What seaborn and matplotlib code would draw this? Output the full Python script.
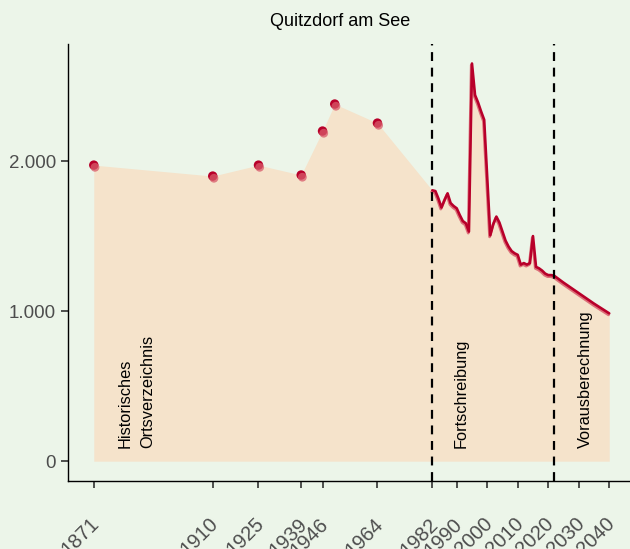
import matplotlib
matplotlib.use("Agg")
import matplotlib.pyplot as plt
import matplotlib.transforms as mtransforms
from matplotlib.ticker import FuncFormatter
import seaborn as sns
import pandas as pd

# Historical census points (Historisches Ortsverzeichnis)
hist_years = [1871, 1910, 1925, 1939, 1946, 1950, 1964]
hist_pop = [1973, 1900, 1973, 1907, 2200, 2380, 2253]

# Annual update (Fortschreibung)
upd_years = list(range(1982, 2022))
upd_pop = [1805, 1800, 1750, 1690, 1740, 1785, 1720, 1700, 1685, 1640,
           1600, 1585, 1530, 2650, 2440, 2390, 2330, 2275, 1890, 1505,
           1580, 1630, 1590, 1530, 1470, 1430, 1400, 1385, 1375, 1310,
           1320, 1310, 1320, 1500, 1295, 1285, 1270, 1250, 1240, 1240]

# Projection (Vorausberechnung)
proj_years = [2022, 2025, 2030, 2035, 2040]
proj_pop = [1235, 1190, 1120, 1050, 985]

tick_years = [1871, 1910, 1925, 1939, 1946, 1964, 1982, 1990, 2000, 2010,
              2020, 2030, 2040]
y_ticks = [0, 1000, 2000]
breaks = [1982, 2022]
labels = ["Historisches\nOrtsverzeichnis", "Fortschreibung", "Vorausberechnung"]
label_x = [1885, 1991.4, 2032.2]

bg = "#ecf5e9"
fill_col = "#f5e3cb"
red = "#b8002a"
light_red = "#d85a6a"

sns.set_theme(style="ticks")
plt.rcParams["font.family"] = ["Liberation Sans", "DejaVu Sans"]

hist = pd.DataFrame({"year": hist_years, "pop": hist_pop})
line = pd.DataFrame({"year": upd_years + proj_years, "pop": upd_pop + proj_pop})
allpts = pd.concat([hist, line], ignore_index=True)

fig = plt.figure(figsize=(6.3, 5.49), dpi=100, facecolor=bg)
ax = fig.add_axes([68 / 630, 68 / 549, 567 / 630, 437 / 549])
ax.set_facecolor(bg)

ax.fill_between(allpts["year"], 0, allpts["pop"], color=fill_col, lw=0, zorder=1)

shift = mtransforms.offset_copy(ax.transData, fig=fig, x=-0.7, y=-1.5, units="dots")
shift_pt = mtransforms.offset_copy(ax.transData, fig=fig, x=1.2, y=-2.2, units="dots")

ax.plot(line["year"], line["pop"], color=light_red, lw=2.0, alpha=0.85,
        transform=shift, zorder=3, solid_joinstyle="round")
sns.lineplot(data=line, x="year", y="pop", color=red, lw=1.9, ax=ax,
             zorder=4, sort=False)

sns.scatterplot(data=hist, x="year", y="pop", color=red, s=46,
                edgecolor="none", ax=ax, zorder=4)
ax.scatter(hist["year"], hist["pop"], color=light_red, s=40, alpha=0.75,
           edgecolor="none", transform=shift_pt, zorder=5)

for b in breaks:
    ax.axvline(b, color="black", lw=1.6, dashes=(4, 3), zorder=6)

for x, t in zip(label_x, labels):
    ax.text(x, 85, t, rotation=90, ha="center", va="bottom", fontsize=11.8,
            color="black", multialignment="left", linespacing=1.6, zorder=7)

ax.set_xlim(1862.55, 2048.45)
ax.set_ylim(-132, 2780)
ax.set_xticks(tick_years)
ax.set_yticks(y_ticks)
ax.yaxis.set_major_formatter(FuncFormatter(lambda v, p: f"{v:,.0f}".replace(",", ".")))

ax.tick_params(axis="both", colors="#333333", labelcolor="#4d4d4d",
               length=5, width=1.2)
ax.tick_params(axis="y", labelsize=13.5)
ax.tick_params(axis="x", labelsize=14.5, pad=19)
xshift = mtransforms.ScaledTranslation(-4 / 100, 0, fig.dpi_scale_trans)
for lab in ax.get_xticklabels():
    lab.set_rotation(45)
    lab.set_ha("right")
    lab.set_va("top")
    lab.set_rotation_mode("anchor")
    lab.set_transform(lab.get_transform() + xshift)

sns.despine(ax=ax)
ax.spines["left"].set_color("black")
ax.spines["bottom"].set_color("black")
ax.spines["left"].set_linewidth(1.0)
ax.spines["bottom"].set_linewidth(1.0)

ax.set_xlabel("")
ax.set_ylabel("")
ax.set_title("Quitzdorf am See", fontsize=13, color="black", pad=13,
             x=(340 - 68) / 567)

fig.savefig("out.png", dpi=100, facecolor=bg)
